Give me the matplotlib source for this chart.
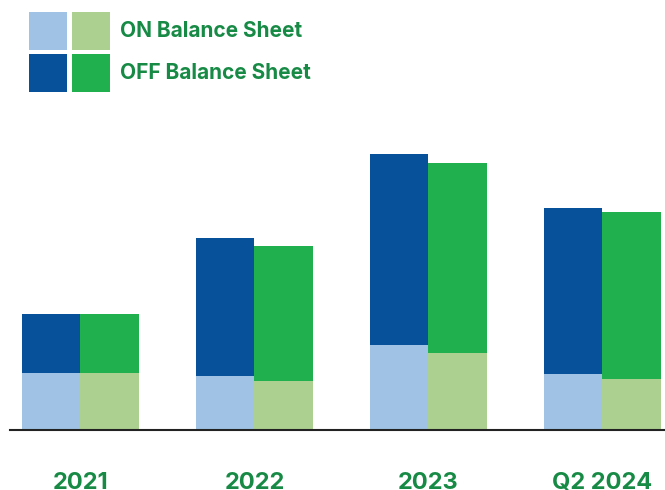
import matplotlib.pyplot as plt
from matplotlib.patches import Rectangle
import numpy as np

plt.rcParams['font.family'] = ['Inter', 'DejaVu Sans']

periods = ['2021', '2022', '2023', 'Q2 2024']

# left (blue) column of each pair
blue_on = [57, 54, 85, 56]
blue_off = [59, 138, 191, 166]
# right (green) column of each pair
green_on = [57, 49, 77, 51]
green_off = [59, 135, 190, 167]

legend_labels = ['ON Balance Sheet', 'OFF Balance Sheet']

c_blue_light = '#9fc2e5'
c_blue_dark = '#07519b'
c_green_light = '#acd08f'
c_green_dark = '#20b04e'
c_text = '#178a45'

W, H = 665, 490
fig = plt.figure(figsize=(W / 100, H / 100), dpi=100)
ax = fig.add_axes([10 / W, 1 - 430 / H, 655 / W, 300 / H])

x = np.arange(len(periods))
bw = 0.337

ax.bar(x - bw / 2, blue_on, bw, color=c_blue_light, linewidth=0)
ax.bar(x - bw / 2, blue_off, bw, bottom=blue_on, color=c_blue_dark, linewidth=0)
ax.bar(x + bw / 2, green_on, bw, color=c_green_light, linewidth=0)
ax.bar(x + bw / 2, green_off, bw, bottom=green_on, color=c_green_dark, linewidth=0)

ax.set_xlim(-0.405, 3.36)
ax.set_ylim(0, 300)

for s in ['top', 'right', 'left']:
    ax.spines[s].set_visible(False)
ax.spines['bottom'].set_color('#222222')
ax.spines['bottom'].set_linewidth(1.5)
ax.set_yticks([])
ax.set_xticks(x, periods)
ax.tick_params(axis='x', length=0, pad=30, labelsize=17, labelcolor=c_text)
for t in ax.get_xticklabels():
    t.set_fontweight('bold')

# legend: squares drawn in figure pixels
sq = 38
rows = [(12, c_blue_light, c_green_light), (54, c_blue_dark, c_green_dark)]
for (top, cb, cg), lab in zip(rows, legend_labels):
    for left, c in [(29, cb), (72, cg)]:
        fig.add_artist(Rectangle((left / W, 1 - (top + sq) / H), sq / W, sq / H,
                                 transform=fig.transFigure, color=c, lw=0))
    fig.text(120 / W, 1 - (top + sq / 2) / H, lab, color=c_text, fontsize=15,
             fontweight='bold', va='center', ha='left')

fig.savefig('out.png', dpi=100)
